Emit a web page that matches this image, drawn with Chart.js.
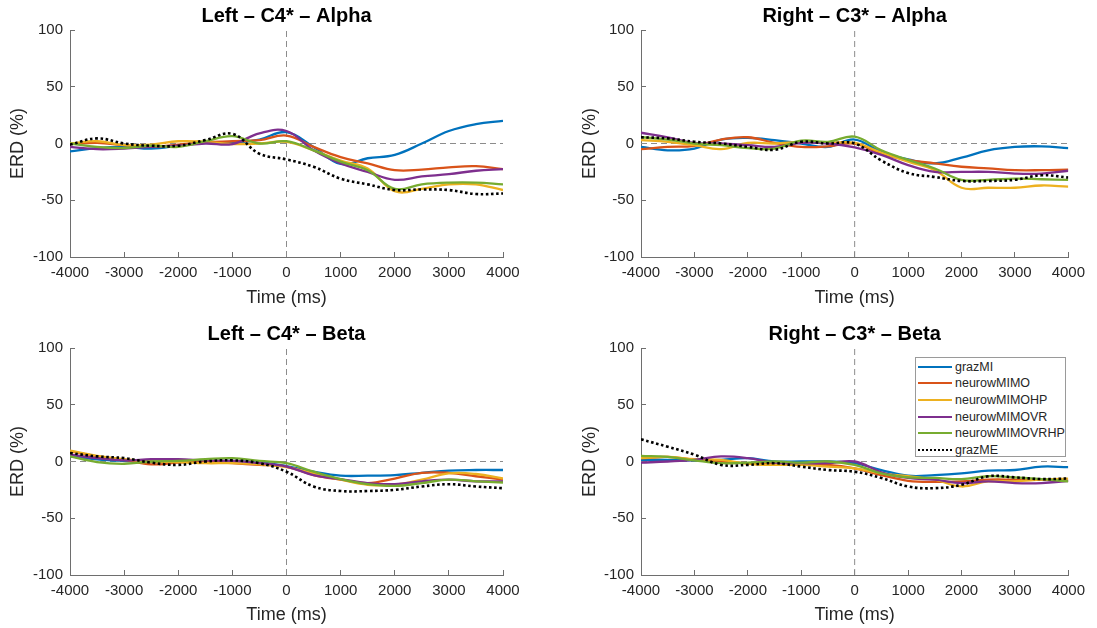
<!DOCTYPE html>
<html>
<head>
<meta charset="utf-8">
<script src="https://cdn.jsdelivr.net/npm/chart.js@4.4.1/dist/chart.umd.min.js"></script>
<style>
  html, body { margin: 0; padding: 0; background: #fff; overflow: hidden; }
  #wrap { position: relative; width: 1097px; height: 628px; font-family: "Liberation Sans", Arial, sans-serif; }
  canvas { position: absolute; }
  #legenda {
    position: absolute; left: 915px; top: 357px; width: 151px; height: 100px;
    border: 1px solid #9a9a9a; background: #fff; box-sizing: border-box; padding-top: 0.5px;
  }
  #legenda .item { display: flex; align-items: center; height: 16.6px; font-size: 12.5px; color: #262626; }
  #legenda .amostra { width: 34px; margin-left: 2px; margin-right: 3px; height: 0; }
</style>
</head>
<body>
<div id="wrap">
  <canvas id="g-la" width="548" height="314" style="left:0;top:0"></canvas>
  <canvas id="g-ra" width="537" height="314" style="left:560px;top:0"></canvas>
  <canvas id="g-lb" width="548" height="310" style="left:0;top:318px"></canvas>
  <canvas id="g-rb" width="537" height="310" style="left:560px;top:318px"></canvas>
  <div id="legenda"></div>
</div>
<script>
// ERD (%) por condição, amostrado a cada 500 ms de -4000 a 4000 ms
const TEMPO = [-4000, -3500, -3000, -2500, -2000, -1500, -1000, -500, 0, 500, 1000, 1500, 2000, 2500, 3000, 3500, 4000];

const NOMES = ["grazMI", "neurowMIMO", "neurowMIMOHP", "neurowMIMOVR", "neurowMIMOVRHP", "grazME"];
const CORES = ["#0072BD", "#D95319", "#EDB120", "#7E2F8E", "#77AC30", "#000000"];
const TITULOS = ["Left \u2013 C4* \u2013 Alpha", "Right \u2013 C3* \u2013 Alpha", "Left \u2013 C4* \u2013 Beta", "Right \u2013 C3* \u2013 Beta"];

// Left - C4* - Alpha
const LA_GRAZMI   = [-7, -4, -3, -4.5, -2, 1, 0.5, 3.5, 10, -3, -18, -13, -10, 0, 11, 17, 20];
const LA_MIMO     = [-0.5, 0.6, -1.5, -3, -1, 1, 2, 3, 7, -3, -12, -17.5, -23.5, -23, -21, -20, -22.5];
const LA_MIMOHP   = [0, 2, -1.5, -1, 2, 1.5, -0.5, 0, 1.5, -6, -15, -22, -42, -40, -36, -36, -41];
const LA_MIMOVR   = [-3, -5, -4.5, -3, -2, 0, -0.5, 9, 11, -6, -17.5, -25, -32, -29, -27, -24, -22.5];
const LA_MIMOVRHP = [0, -3, -4, -2, -3, 2, 6.5, 0, 2, -6, -16, -23.5, -40, -36, -34.5, -34.5, -36];
const LA_GRAZME   = [-1, 4.5, 0, -2, -2, 3, 8.5, -9, -14, -20.5, -31, -36, -41, -40.5, -41, -44.5, -44];

// Right - C3* - Alpha
const RA_GRAZMI   = [-3, -6, -4.5, 3.5, 5, 3, 0, -3, 3.5, -7.5, -14, -17.5, -12.5, -6, -3, -2.5, -4];
const RA_MIMO     = [-5, -3, -2, 3.5, 5.5, 0.5, -3, -2.5, 0, -9, -14.5, -17.5, -20.5, -22, -23.5, -23.5, -23];
const RA_MIMOHP   = [3, 1.5, -1.5, -5, 0.5, 0, 1.5, 0.5, 0.5, -8, -16, -23.5, -39, -39, -39, -37, -38];
const RA_MIMOVR   = [9.5, 5.5, 0.5, 0, -1.5, -3, 0.5, 0, -3.5, -10, -19, -25, -25, -25, -26.5, -26.5, -24];
const RA_MIMOVRHP = [5.5, 3.5, 0, -1.5, -4, -4.5, 2.5, 1.5, 6, -6, -14.5, -22, -32, -32, -31, -31.5, -32];
const RA_GRAZME   = [5.5, 4.5, 1.5, 0, -3, -5.5, 1.5, 0, 0, -15, -26, -29.5, -33, -33, -32, -28, -30];

// Left - C4* - Beta
const LB_GRAZMI   = [4.5, 2, 0.5, -0.5, 0, 0.5, 0.5, -0.5, -4, -9, -12.5, -12.5, -12, -10, -8, -7.5, -7.5];
const LB_MIMO     = [9, 4.5, 1.5, -2.5, -1, 0, -1.5, -3, -4.5, -12, -16, -19, -15, -10, -10, -13, -16];
const LB_MIMOHP   = [9.5, 5, 2, 0, -0.5, -1.5, -1.5, -2.5, -5, -10.5, -16, -20.5, -20.5, -16, -10.5, -11, -15];
const LB_MIMOVR   = [6, 3, 1, 2, 2, 1, 0.5, -1.5, -4.5, -12, -15.5, -19, -20, -17.5, -16, -17.5, -17.5];
const LB_MIMOVRHP = [4.5, -0.5, -2, 0, 0.5, 2, 3, 0.5, -1.5, -9, -15.5, -20, -21.5, -19, -16, -17.5, -18.5];
const LB_GRAZME   = [7.5, 4.5, 3, -1, -3, 0, 1, -1.5, -9, -22, -26, -26, -25, -22, -20, -22, -23.5];

// Right - C3* - Beta
const RB_GRAZMI   = [1.5, 1.5, 1, 1.5, 3, 0, 0, 0, -1.5, -7.5, -12.5, -12, -10.5, -8, -7.5, -4.5, -5];
const RB_MIMO     = [3, 4, 1.5, 0, -1.5, -1.5, -3, -3, -6, -12, -17, -18, -17.5, -16, -16, -16, -17];
const RB_MIMOHP   = [3, 4, 2, 1.5, -2, -3, -3, -4.5, -6, -10.5, -13, -16, -22, -17.5, -17.5, -16, -15];
const RB_MIMOVR   = [-1, 0, 1.5, 4.5, 3, -1, -1.5, -1.5, 0, -9.5, -14.5, -16, -19, -17.5, -19, -19, -17];
const RB_MIMOVRHP = [5, 4, 1, -1.5, -1, 0, -1, 0, -3, -10.5, -14, -14.5, -15.5, -13, -14, -15.5, -17.5];
const RB_GRAZME   = [19.5, 13, 6, -3, -3, -1.5, -4.5, -7.5, -9, -14.5, -22, -23.5, -20.5, -13, -14, -15.5, -15];

const X_MIN = -4000, X_MAX = 4000, X_PASSO = 1000;
const Y_MIN = -100, Y_MAX = 100, Y_PASSO = 50;

const FONTE = "'Liberation Sans', Arial, sans-serif";
const COR_EIXO = "#6e6e6e";
const COR_TEXTO = "#262626";

function serie(nome, valores, cor, ordem) {
  const pontilhado = nome === "grazME";
  return {
    label: nome,
    data: TEMPO.map((t, i) => ({ x: t, y: valores[i] })),
    borderColor: cor,
    backgroundColor: cor,
    borderWidth: pontilhado ? 2.6 : 2.3,
    borderDash: pontilhado ? [2.6, 2.6] : [],
    borderCapStyle: "butt",
    pointRadius: 0,
    tension: 0.4,
    fill: false,
    order: ordem,
  };
}

function referencia(pontos) {
  return {
    label: "_ref",
    data: pontos,
    borderColor: "#8c8c8c",
    borderWidth: 1,
    borderDash: [6, 4],
    pointRadius: 0,
    tension: 0,
    fill: false,
    order: 20,
  };
}

function grafico(id, titulo, valores, cfg) {
  const datasets = valores.map((v, i) => serie(NOMES[i], v, CORES[i], NOMES.length - i));
  datasets.push(referencia([{ x: X_MIN, y: 0 }, { x: X_MAX, y: 0 }]));
  datasets.push(referencia([{ x: 0, y: Y_MIN }, { x: 0, y: Y_MAX }]));

  new Chart(document.getElementById(id), {
    type: "line",
    data: { datasets: datasets },
    options: {
      responsive: false,
      animation: false,
      devicePixelRatio: 1,
      layout: { padding: { left: 0, right: cfg.dir, top: 0, bottom: 0 } },
      plugins: {
        legend: { display: false },
        tooltip: { enabled: false },
        title: {
          display: true,
          text: titulo,
          fullSize: false,
          color: "#000",
          font: { family: FONTE, size: 20, weight: "bold", lineHeight: 1.2 },
          padding: { top: 4, bottom: 2 },
        },
      },
      scales: {
        x: {
          type: "linear",
          min: X_MIN, max: X_MAX,
          border: { display: true, color: COR_EIXO, width: 1 },
          grid: { drawOnChartArea: false, drawTicks: true, tickLength: -5, color: COR_EIXO },
          ticks: {
            stepSize: X_PASSO, padding: 12, color: COR_TEXTO, maxRotation: 0,
            font: { family: FONTE, size: 15 },
            callback: (v) => String(v),
          },
          title: {
            display: true, text: "Time (ms)", color: COR_TEXTO,
            font: { family: FONTE, size: 18, lineHeight: 1.2 },
            padding: { top: 0, bottom: cfg.xTitPad },
          },
          afterFit: (s) => { s.height = cfg.xAlt; },
        },
        y: {
          min: Y_MIN, max: Y_MAX,
          border: { display: true, color: COR_EIXO, width: 1 },
          grid: { drawOnChartArea: false, drawTicks: true, tickLength: -5, color: COR_EIXO },
          ticks: {
            stepSize: Y_PASSO, padding: 12, color: COR_TEXTO,
            font: { family: FONTE, size: 15 },
            callback: (v) => String(v),
          },
          title: {
            display: true, text: "ERD (%)", color: COR_TEXTO,
            font: { family: FONTE, size: 18, lineHeight: 1.2 },
            padding: { top: cfg.yTitPad, bottom: 0 },
          },
          afterFit: (s) => { s.width = cfg.yLarg; },
        },
      },
    },
  });
}

grafico("g-la", TITULOS[0], [LA_GRAZMI, LA_MIMO, LA_MIMOHP, LA_MIMOVR, LA_MIMOVRHP, LA_GRAZME],
  { yLarg: 70, dir: 45, xAlt: 57, xTitPad: 5, yTitPad: 7 });
grafico("g-ra", TITULOS[1], [RA_GRAZMI, RA_MIMO, RA_MIMOHP, RA_MIMOVR, RA_MIMOVRHP, RA_GRAZME],
  { yLarg: 81, dir: 23, xAlt: 57, xTitPad: 5, yTitPad: 19 });
grafico("g-lb", TITULOS[2], [LB_GRAZMI, LB_MIMO, LB_MIMOHP, LB_MIMOVR, LB_MIMOVRHP, LB_GRAZME],
  { yLarg: 70, dir: 45, xAlt: 53, xTitPad: 2, yTitPad: 7 });
grafico("g-rb", TITULOS[3], [RB_GRAZMI, RB_MIMO, RB_MIMOHP, RB_MIMOVR, RB_MIMOVRHP, RB_GRAZME],
  { yLarg: 81, dir: 23, xAlt: 53, xTitPad: 2, yTitPad: 19 });

// legenda em HTML dentro do último painel
const legenda = document.getElementById("legenda");
NOMES.forEach((nome, i) => {
  const item = document.createElement("div");
  item.className = "item";
  const amostra = document.createElement("span");
  amostra.className = "amostra";
  amostra.style.borderTop = nome === "grazME" ? "2.5px dotted #000" : "2px solid " + CORES[i];
  const txt = document.createElement("span");
  txt.textContent = nome;
  item.appendChild(amostra);
  item.appendChild(txt);
  legenda.appendChild(item);
});
</script>
</body>
</html>
